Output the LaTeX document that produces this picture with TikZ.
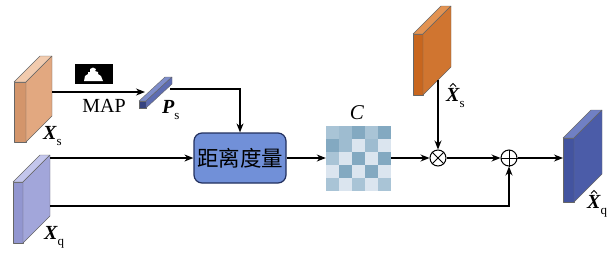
\documentclass[tikz,border=0pt]{standalone}
\usepackage{fontspec}
\setmainfont{Liberation Serif}
\newfontfamily\cjk{Noto Sans CJK SC}
\usetikzlibrary{arrows.meta}
\definecolor{xsF}{HTML}{D3956B}
\definecolor{xsS}{HTML}{E2A880}
\definecolor{xsT}{HTML}{F2CBAE}
\definecolor{xqF}{HTML}{9296D0}
\definecolor{xqS}{HTML}{A2A6DA}
\definecolor{xqT}{HTML}{C3C6EC}
\definecolor{hsF}{HTML}{C8661E}
\definecolor{hsS}{HTML}{D07530}
\definecolor{hsT}{HTML}{E39352}
\definecolor{hqF}{HTML}{4354A0}
\definecolor{hqS}{HTML}{4B5CA8}
\definecolor{hqT}{HTML}{7080C4}
\definecolor{distF}{HTML}{7190D8}
\definecolor{distD}{HTML}{22305E}
\definecolor{cL}{HTML}{DBE5EF}
\definecolor{cM}{HTML}{A9C4D6}
\definecolor{cN}{HTML}{9EBCD0}
\definecolor{cD}{HTML}{83A9C1}
\newcommand\slab[8]{%
  \fill[#6,draw=black!60,line width=0.4pt,line join=round] (#1,#2) rectangle ++(#3,#4);
  \fill[#8,draw=black!60,line width=0.4pt,line join=round] (#1,#2) -- ++(#5,-#5) -- ++(#3,0) -- ++(-#5,#5) -- cycle;
  \fill[#7,draw=black!60,line width=0.4pt,line join=round] ({#1+#3},#2) -- ++(#5,-#5) -- ++(0,#4) -- ++(-#5,#5) -- cycle;
}
\newcommand\bx[1]{{\bfseries\itshape #1}}
\newcommand\sub[1]{\raisebox{-0.3em}{\fontsize{13}{13}\selectfont #1}}
\begin{document}
\begin{tikzpicture}[x=1pt,y=-1pt,
  arr/.style={line width=1.2pt,-{Stealth[length=9pt,width=7pt]}},
  hatline/.style={line width=0.9pt,line join=miter},
  lbl/.style={inner sep=0pt,font=\fontsize{20}{20}\selectfont}]
\useasboundingbox (0,0) rectangle (616,255);
% connection points
\coordinate (xs) at (52,92);
\coordinate (psin) at (145,92);
\coordinate (psout) at (170,89);
\coordinate (xq1) at (50,158);
\coordinate (xq2) at (50,206);
\coordinate (xhs) at (438,80);
\coordinate (xhq) at (563,158);
% nodes
\node[draw=distD,fill=distF,line width=1.2pt,rounded corners=8pt,minimum width=92pt,minimum height=50pt,inner sep=0pt,font=\cjk\fontsize{21.5}{21.5}\selectfont] (dist) at (240,158) {距离度量};
\node[minimum size=65pt,inner sep=0pt] (C) at (358.5,158) {};
\node[circle,draw,line width=1pt,minimum size=16pt,inner sep=0pt] (mul) at (438,158) {};
\draw[line width=1pt] (mul.north west) -- (mul.south east) (mul.north east) -- (mul.south west);
\node[circle,draw,line width=1pt,minimum size=16pt,inner sep=0pt] (add) at (509,158) {};
\draw[line width=1pt] (add.north) -- (add.south) (add.west) -- (add.east);
% matrix C
\foreach \row [count=\r from 0] in {{cM,cN,cD,cM,cD},{cD,cN,cL,cN,cL},{cM,cL,cD,cL,cD},{cL,cD,cL,cD,cL},{cM,cL,cM,cL,cM}}{
  \foreach \col [count=\c from 0] in \row {
    \fill[\col] ({326+13*\c},{125.5+13*\r}) rectangle ++(13,13);
  }
}
\node[lbl,font=\fontsize{21}{21}\selectfont\itshape] (Clbl) at (357,113) {C};
% blocks
\slab{14}{82}{12}{60}{26}{xsF}{xsS}{xsT}
\slab{13}{182}{10}{61}{27}{xqF}{xqS}{xqT}
\slab{413}{34}{10}{61}{28}{hsF}{hsS}{hsT}
\slab{563}{138}{11}{64}{28}{hqF}{hqS}{hqT}
% mask icon
\fill[black] (75,64) rectangle (113,84);
\fill[white] (84,81) -- (85,76) -- (88,74) -- (88,72) -- (90,72) -- (90,69) -- (93,67.5) -- (96,69) -- (95,71) -- (98,72) -- (98,74) -- (101,76) -- (103,81) -- cycle;
% arrows
\draw[arr] (xs) -- (psin);
\draw[arr] (psout) -| (dist.north);
\draw[arr] (xq1) -- (dist.west);
\draw[arr] (dist.east) -- (C.west);
\draw[arr] (C.east) -- (mul.west);
\draw[arr] (xhs) -- (mul.north);
\draw[arr] (mul.east) -- (add.west);
\draw[arr] (add.east) -- (xhq);
\draw[arr] (xq2) -| (add.south);
% P_s bar
\fill[hqF!80!black,draw=black!60,line width=0.4pt] (139,101) rectangle (146,108);
\fill[hqT!90!white,draw=black!60,line width=0.4pt,line join=round] (139,101) -- (146,101) -- (172,77) -- (165,77) -- cycle;
\fill[hqS!90!white,draw=black!60,line width=0.4pt,line join=round] (146,101) -- (146,108) -- (172,84) -- (172,77) -- cycle;
% labels
\node[lbl] (map) at (104,106) {MAP};
\node[lbl,anchor=base west] (xslbl) at (43,139) {\bx{X}\sub{s}};
\node[lbl,anchor=base west] (pslbl) at (162,113) {\bx{P}\sub{s}};
\node[lbl,anchor=base west] (xqlbl) at (44,239) {\bx{X}\sub{q}};
\node[lbl,anchor=base west] (hslbl) at (446,101) {\bx{X}\sub{s}};
\node[lbl,anchor=base west] (hqlbl) at (587,208) {\bx{X}\sub{q}};
% hats
\draw[hatline] (450,86.5) -- (453,83.5) -- (456,86.5);
\draw[hatline] (591,193.5) -- (594,190.5) -- (597,193.5);
\end{tikzpicture}
\end{document}
